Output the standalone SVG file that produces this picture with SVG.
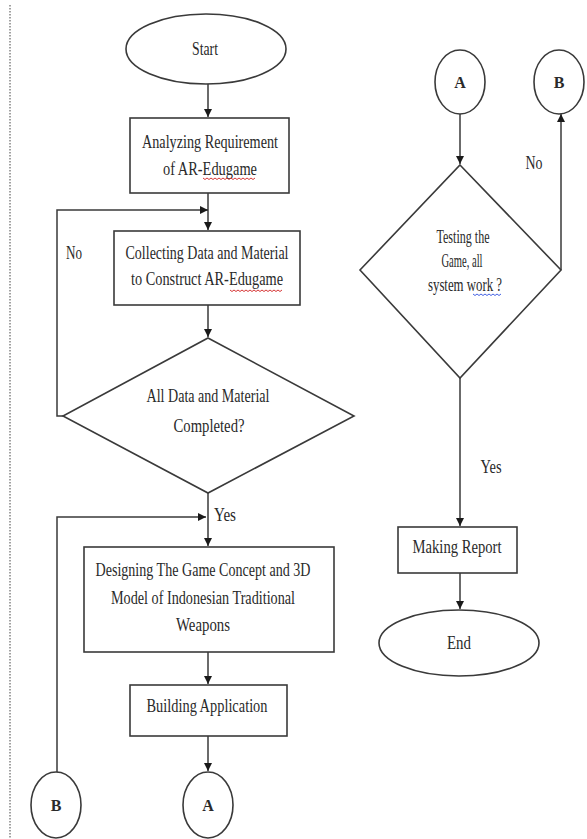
<svg xmlns="http://www.w3.org/2000/svg" width="587" height="839" viewBox="0 0 587 839">
<style>
.shape{fill:#fff;stroke:#3a3a3a;stroke-width:1.6}
.conn{fill:none;stroke:#3a3a3a;stroke-width:1.5}
text{font-family:"Liberation Serif","Times New Roman",serif;font-size:18px;fill:#2a2a2a;text-anchor:middle}
.sq{fill:none;stroke-width:0.9}
</style>
<defs>
<marker id="ah" viewBox="0 0 10 10" refX="10" refY="5" markerWidth="8" markerHeight="8" markerUnits="userSpaceOnUse" orient="auto">
<path d="M0,0 L10,5 L0,10 z" fill="#1a1a1a"/>
</marker>
</defs>
<rect width="587" height="839" fill="#fff"/>
<line x1="10" y1="5" x2="10" y2="838" stroke="#444" stroke-width="1" stroke-dasharray="1.5,1.5"/>

<g id="connectors">
<path class="conn" d="M208,84 V117" marker-end="url(#ah)"/>
<path class="conn" d="M208,193 V230" marker-end="url(#ah)"/>
<path class="conn" d="M63,416 H57 V210 H208" marker-end="url(#ah)"/>
<path class="conn" d="M208,305 V337" marker-end="url(#ah)"/>
<path class="conn" d="M208,493 V546" marker-end="url(#ah)"/>
<path class="conn" d="M57,772 V517 H206" marker-end="url(#ah)"/>
<path class="conn" d="M208,652 V684" marker-end="url(#ah)"/>
<path class="conn" d="M208,736 V771" marker-end="url(#ah)"/>
<path class="conn" d="M460,114 V164" marker-end="url(#ah)"/>
<path class="conn" d="M561,270 V114" marker-end="url(#ah)"/>
<path class="conn" d="M460,378 V526" marker-end="url(#ah)"/>
<path class="conn" d="M460,573 V609" marker-end="url(#ah)"/>
</g>

<g id="start">
<ellipse class="shape" cx="206" cy="49" rx="80" ry="35"/>
<text x="205" y="55" textLength="26" lengthAdjust="spacingAndGlyphs">Start</text>
</g>
<g id="analyzing">
<rect class="shape" x="130" y="118" width="159" height="75"/>
<text x="210" y="148" textLength="136" lengthAdjust="spacingAndGlyphs">Analyzing Requirement</text>
<text x="210" y="175" textLength="94" lengthAdjust="spacingAndGlyphs">of AR-Edugame</text>
<path class="sq" stroke="#d02020" d="M203,178 l2,1.5 l2,-1.5 l2,1.5 l2,-1.5 l2,1.5 l2,-1.5 l2,1.5 l2,-1.5 l2,1.5 l2,-1.5 l2,1.5 l2,-1.5 l2,1.5 l2,-1.5 l2,1.5 l2,-1.5 l2,1.5 l2,-1.5 l2,1.5 l2,-1.5 l2,1.5 l2,-1.5 l2,1.5 l2,-1.5 l2,1.5 l2,-1.5"/>
</g>
<g id="collecting">
<rect class="shape" x="114" y="231" width="186" height="74"/>
<text x="207" y="259" textLength="163" lengthAdjust="spacingAndGlyphs">Collecting Data and Material</text>
<text x="207" y="285" textLength="152" lengthAdjust="spacingAndGlyphs">to Construct AR-Edugame</text>
<path class="sq" stroke="#d02020" d="M230,290 l2,1.5 l2,-1.5 l2,1.5 l2,-1.5 l2,1.5 l2,-1.5 l2,1.5 l2,-1.5 l2,1.5 l2,-1.5 l2,1.5 l2,-1.5 l2,1.5 l2,-1.5 l2,1.5 l2,-1.5 l2,1.5 l2,-1.5 l2,1.5 l2,-1.5 l2,1.5 l2,-1.5 l2,1.5 l2,-1.5 l2,1.5 l2,-1.5"/>
</g>
<g id="no1"><text x="74" y="259" textLength="16" lengthAdjust="spacingAndGlyphs">No</text></g>
<g id="decision1">
<polygon class="shape" points="208,338 354,416 208,493 63,416"/>
<text x="208" y="402" textLength="123" lengthAdjust="spacingAndGlyphs">All Data and Material</text>
<text x="209" y="432" textLength="71" lengthAdjust="spacingAndGlyphs">Completed?</text>
</g>
<g id="yes1"><text x="225" y="521" textLength="22" lengthAdjust="spacingAndGlyphs">Yes</text></g>
<g id="designing">
<rect class="shape" x="84" y="547" width="250" height="105"/>
<text x="203" y="576" textLength="215" lengthAdjust="spacingAndGlyphs">Designing The Game Concept and 3D</text>
<text x="203" y="604" textLength="184" lengthAdjust="spacingAndGlyphs">Model of Indonesian Traditional</text>
<text x="203" y="631" textLength="54" lengthAdjust="spacingAndGlyphs">Weapons</text>
</g>
<g id="building">
<rect class="shape" x="130" y="685" width="157" height="51"/>
<text x="207" y="712" textLength="121" lengthAdjust="spacingAndGlyphs">Building Application</text>
</g>
<g id="connB-left">
<ellipse class="shape" cx="56" cy="805" rx="25" ry="33"/>
<text x="56" y="811" style="font-weight:bold;font-size:16px">B</text>
</g>
<g id="connA-left">
<ellipse class="shape" cx="208" cy="805" rx="25" ry="33"/>
<text x="208" y="811" style="font-weight:bold;font-size:16px">A</text>
</g>

<g id="connA-right">
<ellipse class="shape" cx="460" cy="82" rx="25" ry="32"/>
<text x="460" y="88" style="font-weight:bold;font-size:16px">A</text>
</g>
<g id="connB-right">
<ellipse class="shape" cx="559" cy="82" rx="25" ry="32"/>
<text x="559" y="88" style="font-weight:bold;font-size:16px">B</text>
</g>
<g id="no2"><text x="534" y="169" textLength="17" lengthAdjust="spacingAndGlyphs">No</text></g>
<g id="decision2">
<polygon class="shape" points="460,165 561,270 460,378 360,270"/>
<text x="463" y="243" textLength="53" lengthAdjust="spacingAndGlyphs">Testing the</text>
<text x="462" y="267" textLength="41" lengthAdjust="spacingAndGlyphs">Game, all</text>
<text x="465" y="291" textLength="74" lengthAdjust="spacingAndGlyphs">system work ?</text>
<path class="sq" stroke="#3050e0" d="M473,294 l2,1.5 l2,-1.5 l2,1.5 l2,-1.5 l2,1.5 l2,-1.5 l2,1.5 l2,-1.5 l2,1.5 l2,-1.5 l2,1.5 l2,-1.5 l2,1.5 l2,-1.5"/>
</g>
<g id="yes2"><text x="491" y="473" textLength="21" lengthAdjust="spacingAndGlyphs">Yes</text></g>
<g id="report">
<rect class="shape" x="398" y="527" width="119" height="46"/>
<text x="457" y="553" textLength="89" lengthAdjust="spacingAndGlyphs">Making Report</text>
</g>
<g id="end">
<ellipse class="shape" cx="459" cy="643" rx="80" ry="33"/>
<text x="459" y="649" textLength="24" lengthAdjust="spacingAndGlyphs">End</text>
</g>
</svg>
